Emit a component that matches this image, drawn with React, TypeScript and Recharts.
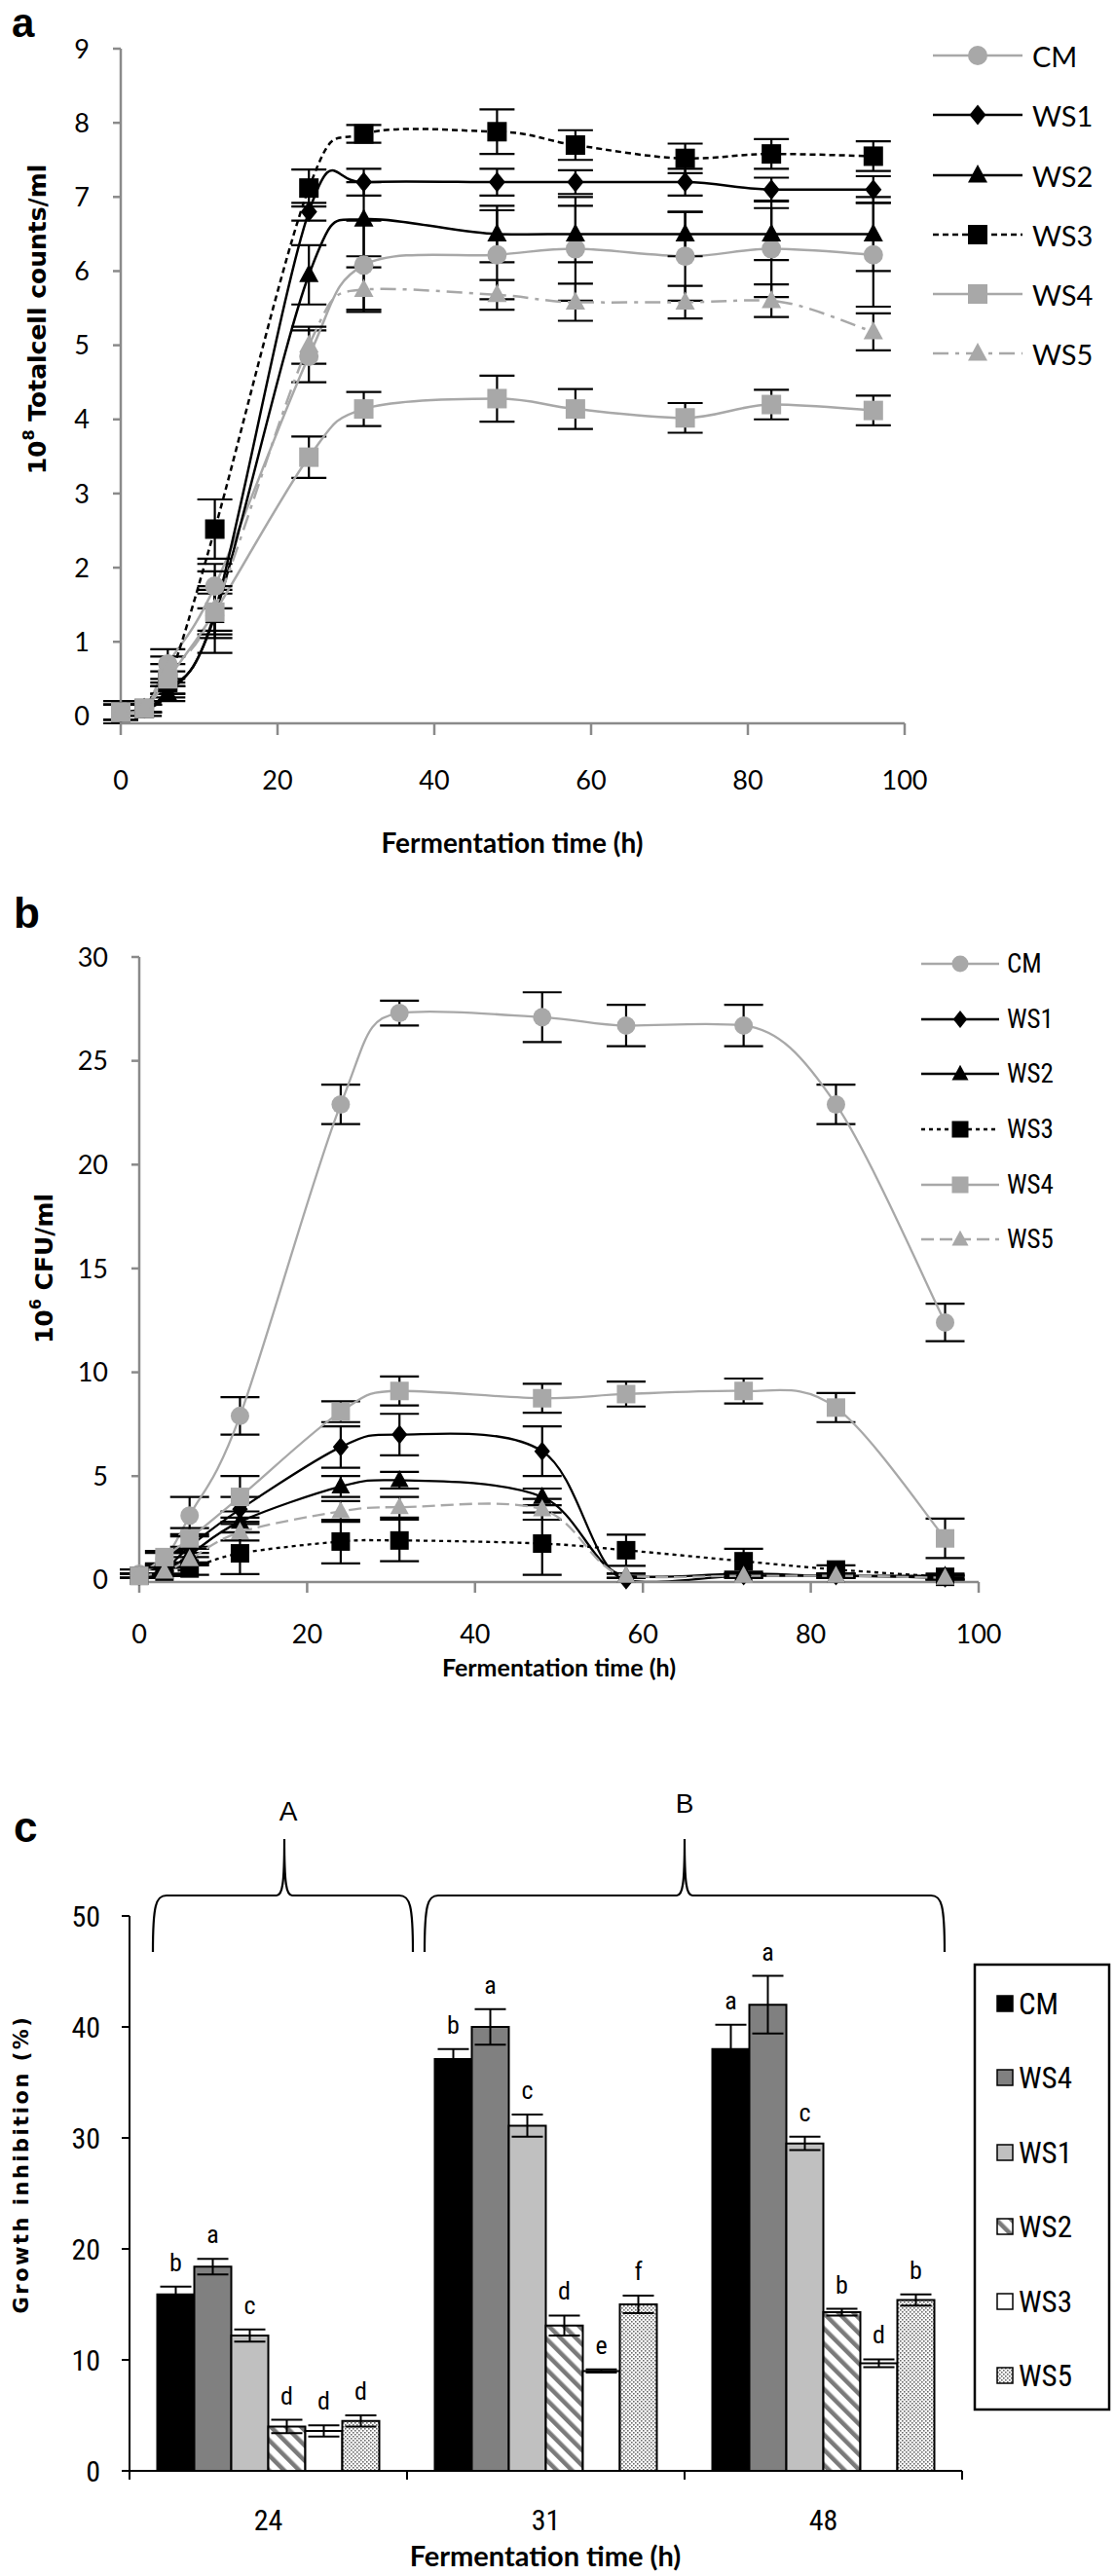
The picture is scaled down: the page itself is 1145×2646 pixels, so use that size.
import React from 'react';
import { LineChart, Line, XAxis, YAxis, ErrorBar, BarChart, Bar, LabelList } from 'recharts';

// ---------- shared ----------
const TIMES = [0, 3, 6, 12, 24, 31, 48, 58, 72, 83, 96];
const NAMES = ['CM', 'WS1', 'WS2', 'WS3', 'WS4', 'WS5'];
const X_TICKS = [0, 20, 40, 60, 80, 100];

// ---------- panel a : 10^8 total cell counts/ml ----------
const A_Y_TICKS = [0, 1, 2, 3, 4, 5, 6, 7, 8, 9];
const aCM = [0.05, 0.1, 0.7, 1.75, 4.85, 6.08, 6.22, 6.3, 6.2, 6.3, 6.22];
const aCMerr = [0.15, 0.1, 0.2, 0.3, 0.35, 0.6, 0.6, 0.7, 0.6, 0.65, 0.7];
const aWS1 = [0.05, 0.1, 0.35, 1.4, 6.8, 7.2, 7.2, 7.2, 7.2, 7.1, 7.1];
const aWS1err = [0.1, 0.05, 0.1, 0.3, 0.12, 0.18, 0.18, 0.16, 0.18, 0.16, 0.18];
const aWS2 = [0.05, 0.1, 0.3, 1.35, 5.95, 6.7, 6.5, 6.5, 6.5, 6.5, 6.5];
const aWS2err = [0.1, 0.05, 0.1, 0.3, 0.4, 0.5, 0.38, 0.38, 0.3, 0.35, 0.5];
const aWS3 = [0.05, 0.1, 0.45, 2.52, 7.12, 7.85, 7.88, 7.7, 7.52, 7.58, 7.55];
const aWS3err = [0.1, 0.05, 0.15, 0.4, 0.25, 0.12, 0.3, 0.2, 0.2, 0.2, 0.2];
const aWS4 = [0.05, 0.1, 0.5, 1.4, 3.49, 4.14, 4.28, 4.14, 4.02, 4.2, 4.12];
const aWS4err = [0.1, 0.05, 0.2, 0.55, 0.28, 0.23, 0.31, 0.27, 0.2, 0.2, 0.2];
const aWS5 = [0.05, 0.1, 0.6, 1.45, 5.0, 5.75, 5.68, 5.58, 5.58, 5.6, 5.18];
const aWS5err = [0.1, 0.05, 0.2, 0.3, 0.25, 0.3, 0.2, 0.25, 0.22, 0.22, 0.25];

// ---------- panel b : 10^6 CFU/ml ----------
const B_Y_TICKS = [0, 5, 10, 15, 20, 25, 30];
const bCM = [0.3, 1.0, 3.1, 7.9, 22.9, 27.3, 27.1, 26.7, 26.7, 22.9, 12.4];
const bCMerr = [0.2, 0.3, 0.9, 0.9, 0.95, 0.6, 1.2, 1.0, 1.0, 0.95, 0.9];
const bWS1 = [0.2, 0.5, 1.6, 3.4, 6.4, 7.0, 6.2, 0.0, 0.2, 0.2, 0.1];
const bWS1err = [0.1, 0.2, 0.5, 0.6, 1.0, 1.0, 1.2, 0.1, 0.1, 0.1, 0.1];
const bWS2 = [0.2, 0.4, 1.2, 2.8, 4.5, 4.8, 4.0, 0.2, 0.3, 0.2, 0.2];
const bWS2err = [0.1, 0.2, 0.4, 0.5, 0.5, 0.4, 0.4, 0.1, 0.1, 0.1, 0.1];
const bWS3 = [0.2, 0.4, 0.55, 1.28, 1.85, 1.9, 1.75, 1.43, 0.9, 0.5, 0.15];
const bWS3err = [0.1, 0.2, 0.3, 1.0, 1.05, 1.0, 1.5, 0.75, 0.6, 0.2, 0.1];
const bWS4 = [0.2, 1.1, 2.0, 4.0, 8.1, 9.1, 8.75, 8.95, 9.1, 8.3, 2.0];
const bWS4err = [0.1, 0.3, 0.5, 1.0, 0.5, 0.7, 0.7, 0.6, 0.6, 0.7, 0.95];
const bWS5 = [0.2, 0.4, 1.0, 2.3, 3.3, 3.5, 3.4, 0.2, 0.2, 0.2, 0.1];
const bWS5err = [0.1, 0.2, 0.3, 0.4, 0.5, 0.5, 0.5, 0.1, 0.1, 0.1, 0.1];

// ---------- panel c : growth inhibition (%) ----------
const C_CATEGORIES = ['24', '31', '48'];
const C_NAMES = ['CM', 'WS4', 'WS1', 'WS2', 'WS3', 'WS5'];
const C_Y_TICKS = [0, 10, 20, 30, 40, 50];
const cCM = [15.9, 37.1, 38.0];
const cCMerr = [0.7, 0.9, 2.2];
const cCMlet = ['b', 'b', 'a'];
const cWS4 = [18.4, 40.0, 42.0];
const cWS4err = [0.7, 1.6, 2.6];
const cWS4let = ['a', 'a', 'a'];
const cWS1 = [12.2, 31.1, 29.5];
const cWS1err = [0.55, 1.0, 0.6];
const cWS1let = ['c', 'c', 'c'];
const cWS2 = [4.0, 13.1, 14.3];
const cWS2err = [0.6, 0.9, 0.3];
const cWS2let = ['d', 'd', 'b'];
const cWS3 = [3.6, 9.0, 9.7];
const cWS3err = [0.5, 0.15, 0.35];
const cWS3let = ['d', 'e', 'd'];
const cWS5 = [4.5, 15.0, 15.4];
const cWS5err = [0.5, 0.8, 0.5];
const cWS5let = ['d', 'f', 'b'];

// ---------- styling ----------
const GRAY = '#a8a8a8';
const AXIS_GRAY = '#8a8a8a';
const LATO = "Lato, 'Open Sans', sans-serif";
const NARROW = "'Liberation Sans Narrow', 'Arial Narrow', 'Roboto Condensed', Roboto, sans-serif";
const DEJAVU = "'DejaVu Sans', Verdana, sans-serif";
const ARIAL = "'Liberation Sans', Arial, sans-serif";

type LStyle = { name: string; color: string; shape: string; dash?: string };
const A_STYLES: LStyle[] = [
  { name: 'CM', color: GRAY, shape: 'circle' },
  { name: 'WS1', color: '#000', shape: 'diamond' },
  { name: 'WS2', color: '#000', shape: 'triangle' },
  { name: 'WS3', color: '#000', shape: 'square', dash: '6 4' },
  { name: 'WS4', color: GRAY, shape: 'square' },
  { name: 'WS5', color: GRAY, shape: 'triangle', dash: '16 7 4 7' },
];
const B_STYLES: LStyle[] = [
  { name: 'CM', color: GRAY, shape: 'circle' },
  { name: 'WS1', color: '#000', shape: 'diamond' },
  { name: 'WS2', color: '#000', shape: 'triangle' },
  { name: 'WS3', color: '#000', shape: 'square', dash: '4 4' },
  { name: 'WS4', color: GRAY, shape: 'square' },
  { name: 'WS5', color: GRAY, shape: 'triangle', dash: '13 6' },
];
const C_FILLS = ['#000000', '#808080', '#c0c0c0', 'url(#hatchWS2)', '#ffffff', 'url(#dotsWS5)'];

function buildLineTable(values: number[][], errors: number[][]) {
  return TIMES.map((t, i) => {
    const row: any = { t };
    NAMES.forEach((n, k) => {
      row[n] = values[k][i];
      row[n + 'e'] = errors[k][i];
    });
    return row;
  });
}
const A_DATA = buildLineTable([aCM, aWS1, aWS2, aWS3, aWS4, aWS5], [aCMerr, aWS1err, aWS2err, aWS3err, aWS4err, aWS5err]);
const B_DATA = buildLineTable([bCM, bWS1, bWS2, bWS3, bWS4, bWS5], [bCMerr, bWS1err, bWS2err, bWS3err, bWS4err, bWS5err]);

const C_VALUES = [cCM, cWS4, cWS1, cWS2, cWS3, cWS5];
const C_ERRS = [cCMerr, cWS4err, cWS1err, cWS2err, cWS3err, cWS5err];
const C_LETS = [cCMlet, cWS4let, cWS1let, cWS2let, cWS3let, cWS5let];
const C_DATA = C_CATEGORIES.map((c, i) => {
  const row: any = { cat: c };
  C_NAMES.forEach((n, k) => {
    row[n] = C_VALUES[k][i];
    row[n + 'e'] = C_ERRS[k][i];
    row[n + 'l'] = C_LETS[k][i];
  });
  return row;
});

// Excel-like smoothed line (Catmull-Rom Bezier, damped at turning points)
const excelSmooth: any = (context: any) => {
  let pts: number[][] = [];
  return {
    areaStart() {},
    areaEnd() {},
    lineStart() { pts = []; },
    point(x: number, y: number) { pts.push([+x, +y]); },
    lineEnd() {
      const n = pts.length;
      if (!n) return;
      const tan = pts.map((p, j) => {
        const a = pts[j - 1] || p;
        const b = pts[j + 1] || p;
        let tx = (b[0] - a[0]) / 6;
        let ty = (b[1] - a[1]) / 6;
        if (pts[j - 1] && pts[j + 1] && (p[1] - a[1]) * (b[1] - p[1]) <= 0) ty *= 0.3;
        return [tx, ty];
      });
      context.moveTo(pts[0][0], pts[0][1]);
      for (let i = 0; i < n - 1; i++) {
        const p1 = pts[i];
        const p2 = pts[i + 1];
        context.bezierCurveTo(
          p1[0] + tan[i][0], p1[1] + tan[i][1],
          p2[0] - tan[i + 1][0], p2[1] - tan[i + 1][1],
          p2[0], p2[1]
        );
      }
    },
  };
};

function Marker({ shape, cx, cy, size, fill }: { shape: string; cx: number; cy: number; size: number; fill: string }) {
  if (cx == null || cy == null || isNaN(cx) || isNaN(cy)) return null;
  const h = size / 2;
  if (shape === 'circle') return <circle cx={cx} cy={cy} r={h} fill={fill} />;
  if (shape === 'square') return <rect x={cx - h} y={cy - h} width={size} height={size} fill={fill} />;
  if (shape === 'diamond')
    return <path d={`M${cx},${cy - h * 1.05}L${cx + h * 0.85},${cy}L${cx},${cy + h * 1.05}L${cx - h * 0.85},${cy}Z`} fill={fill} />;
  return <path d={`M${cx},${cy - h * 1.1}L${cx + h},${cy + h * 0.75}L${cx - h},${cy + h * 0.75}Z`} fill={fill} />;
}

const makeDot = (s: LStyle, size: number) => (p: any) => (
  <Marker key={`${s.name}-${p.index}`} shape={s.shape} cx={p.cx} cy={p.cy} size={size} fill={s.color} />
);

function Legend({ styles, x1, x2, tx, rows, size, font, fontSize, lw }: any) {
  return (
    <g>
      {styles.map((s: LStyle, i: number) => (
        <g key={s.name}>
          <line x1={x1} x2={x2} y1={rows[i]} y2={rows[i]} stroke={s.color} strokeWidth={lw} strokeDasharray={s.dash} />
          <Marker shape={s.shape} cx={(x1 + x2) / 2} cy={rows[i]} size={size} fill={s.color} />
          <text x={tx} y={rows[i]} dominantBaseline="central" fontFamily={font} fontSize={fontSize} fill="#000">{s.name}</text>
        </g>
      ))}
    </g>
  );
}

// ---------- layout ----------
const W = 1145;
const C_MARGIN = { top: 248, right: 157, bottom: 48, left: 73 };
const C_YW = 60;
const C_XH = 60;
const C_BAND = (W - C_MARGIN.left - C_YW - C_MARGIN.right) / C_CATEGORIES.length;

const CTick = (p: any) => {
  const { x, y, payload, index } = p;
  return (
    <g>
      <line x1={x - C_BAND / 2} x2={x - C_BAND / 2} y1={y} y2={y + 9} stroke="#000" strokeWidth={2} />
      {index === C_CATEGORIES.length - 1 && (
        <line x1={x + C_BAND / 2} x2={x + C_BAND / 2} y1={y} y2={y + 9} stroke="#000" strokeWidth={2} />
      )}
      <text x={x} y={y + 50} textAnchor="middle" dominantBaseline="central" fontFamily={NARROW} fontSize={30} fill="#000">
        {payload.value}
      </text>
    </g>
  );
};

const letterContent = (k: number) => (p: any) => {
  const x = Number(p.x), y = Number(p.y), width = Number(p.width), height = Number(p.height);
  const i = p.index;
  const v = C_VALUES[k][i];
  const ppu = height / v;
  const top = y - C_ERRS[k][i] * ppu;
  return (
    <text x={x + width / 2} y={top - 16} textAnchor="middle" fontFamily={NARROW} fontSize={26} fill="#000">
      {p.value}
    </text>
  );
};

function Brace({ x1, x2, xm, yTop, yLine, yEnd }: any) {
  const d = `M${x1},${yEnd} C${x1},${yLine + 10} ${x1 + 3},${yLine} ${x1 + 14},${yLine} L${xm - 8},${yLine} C${xm - 2},${yLine} ${xm},${yLine - 12} ${xm},${yTop} C${xm},${yLine - 12} ${xm + 2},${yLine} ${xm + 8},${yLine} L${x2 - 14},${yLine} C${x2 - 3},${yLine} ${x2},${yLine + 10} ${x2},${yEnd}`;
  return <path d={d} fill="none" stroke="#000" strokeWidth={2.2} />;
}

export default function App() {
  const aRows = [57, 118, 180, 241, 302, 363];
  const bRows = [990, 1047, 1103, 1160, 1217, 1273];
  const cRows = [2058, 2134, 2211, 2287, 2364, 2440];
  return (
    <div style={{ position: 'absolute', left: 0, top: 0, width: W, height: 2646, background: '#fff', overflow: 'hidden' }}>
      <svg width={0} height={0} style={{ position: 'absolute' }}>
        <defs>
          <pattern id="hatchWS2" width="11" height="11" patternUnits="userSpaceOnUse" patternTransform="rotate(-45)">
            <rect width="11" height="11" fill="#ffffff" />
            <rect x="0" y="0" width="4.5" height="11" fill="#7a7a7a" />
          </pattern>
          <pattern id="dotsWS5" width="4" height="4" patternUnits="userSpaceOnUse">
            <rect width="4" height="4" fill="#ffffff" />
            <rect x="0" y="0" width="1.6" height="1.6" fill="#6a6a6a" />
            <rect x="2" y="2" width="1.6" height="1.6" fill="#6a6a6a" />
          </pattern>
        </defs>
      </svg>

      {/* panel a */}
      <div style={{ position: 'absolute', left: 0, top: 0 }}>
        <LineChart width={W} height={880} data={A_DATA} margin={{ top: 50, right: 216, bottom: 77, left: 64 }}>
          <XAxis type="number" dataKey="t" domain={[0, 100]} ticks={X_TICKS} height={60}
            stroke={AXIS_GRAY} strokeWidth={2.5} tickSize={12} tickMargin={37}
            tick={{ fill: '#000', fontSize: 27, fontFamily: LATO }} />
          <YAxis type="number" domain={[0, 9]} ticks={A_Y_TICKS} width={60}
            stroke={AXIS_GRAY} strokeWidth={2.5} tickSize={8} tickMargin={24}
            tick={{ fill: '#000', fontSize: 27, fontFamily: LATO }} />
          {A_STYLES.map((s) => (
            <Line key={s.name} type={excelSmooth} dataKey={s.name} stroke={s.color} strokeWidth={2.5}
              strokeDasharray={s.dash} dot={makeDot(s, 20)} activeDot={false} isAnimationActive={false}>
              <ErrorBar dataKey={s.name + 'e'} width={18} stroke="#000" strokeWidth={2.2} direction="y" />
            </Line>
          ))}
        </LineChart>
      </div>

      {/* panel b */}
      <div style={{ position: 'absolute', left: 0, top: 880 }}>
        <LineChart width={W} height={840} data={B_DATA} margin={{ top: 103, right: 140, bottom: 35, left: 83 }}>
          <XAxis type="number" dataKey="t" domain={[0, 100]} ticks={X_TICKS} height={60}
            stroke={AXIS_GRAY} strokeWidth={2.5} tickSize={11} tickMargin={33}
            tick={{ fill: '#000', fontSize: 27, fontFamily: LATO }} />
          <YAxis type="number" domain={[0, 30]} ticks={B_Y_TICKS} width={60}
            stroke={AXIS_GRAY} strokeWidth={2.5} tickSize={8} tickMargin={24}
            tick={{ fill: '#000', fontSize: 27, fontFamily: LATO }} />
          {B_STYLES.map((s) => (
            <Line key={s.name} type={excelSmooth} dataKey={s.name} stroke={s.color} strokeWidth={2.3}
              strokeDasharray={s.dash} dot={makeDot(s, 19)} activeDot={false} isAnimationActive={false}>
              <ErrorBar dataKey={s.name + 'e'} width={20} stroke="#000" strokeWidth={2.2} direction="y" />
            </Line>
          ))}
        </LineChart>
      </div>

      {/* panel c */}
      <div style={{ position: 'absolute', left: 0, top: 1720 }}>
        <BarChart width={W} height={926} data={C_DATA} margin={C_MARGIN} barCategoryGap="10%" barGap={0}>
          <XAxis dataKey="cat" height={C_XH} stroke="#000" strokeWidth={2} tickLine={false} tickSize={0} tickMargin={0}
            tick={<CTick />} interval={0} />
          <YAxis type="number" domain={[0, 50]} ticks={C_Y_TICKS} width={C_YW}
            stroke="#000" strokeWidth={2} tickSize={8} tickMargin={22}
            tick={{ fill: '#000', fontSize: 30, fontFamily: NARROW }} />
          {C_NAMES.map((n, k) => (
            <Bar key={n} dataKey={n} fill={C_FILLS[k]} stroke="#000" strokeWidth={2} isAnimationActive={false}>
              <ErrorBar dataKey={n + 'e'} width={16} stroke="#000" strokeWidth={2} direction="y" />
              <LabelList dataKey={n + 'l'} content={letterContent(k)} />
            </Bar>
          ))}
        </BarChart>
      </div>

      {/* overlay text and legends */}
      <svg width={W} height={2646} style={{ position: 'absolute', left: 0, top: 0, pointerEvents: 'none' }}>
        {/* panel a */}
        <text x={12} y={38} fontFamily={ARIAL} fontWeight="bold" fontSize={42} fill="#000">a</text>
        <text transform="translate(38,328) rotate(-90)" textAnchor="middle" dominantBaseline="central"
          fontFamily={DEJAVU} fontWeight="bold" fontSize={25} fill="#000">
          <tspan>10</tspan><tspan dy={-9} fontSize={16}>8</tspan><tspan dy={9}> Totalcell counts/ml</tspan>
        </text>
        <text x={526} y={865} textAnchor="middle" dominantBaseline="central" fontFamily={LATO} fontWeight="bold" fontSize={28} fill="#000">
          Fermentation time (h)
        </text>
        <Legend styles={A_STYLES} x1={958} x2={1050} tx={1060} rows={aRows} size={20} font={LATO} fontSize={29} lw={2.5} />

        {/* panel b */}
        <text x={14} y={953} fontFamily={ARIAL} fontWeight="bold" fontSize={44} fill="#000">b</text>
        <text transform="translate(45,1303) rotate(-90)" textAnchor="middle" dominantBaseline="central"
          fontFamily={DEJAVU} fontWeight="bold" fontSize={25} fill="#000">
          <tspan>10</tspan><tspan dy={-9} fontSize={16}>6</tspan><tspan dy={9}> CFU/ml</tspan>
        </text>
        <text x={574} y={1712} textAnchor="middle" dominantBaseline="central" fontFamily={LATO} fontWeight="bold" fontSize={25} fill="#000">
          Fermentation time (h)
        </text>
        <Legend styles={B_STYLES} x1={946} x2={1026} tx={1034} rows={bRows} size={17} font={NARROW} fontSize={27} lw={2.3} />

        {/* panel c */}
        <text x={14} y={1892} fontFamily={ARIAL} fontWeight="bold" fontSize={44} fill="#000">c</text>
        <text x={296} y={1860} textAnchor="middle" dominantBaseline="central" fontFamily={ARIAL} fontSize={28} fill="#000">A</text>
        <text x={703} y={1852} textAnchor="middle" dominantBaseline="central" fontFamily={ARIAL} fontSize={28} fill="#000">B</text>
        <Brace x1={157} x2={424} xm={292} yTop={1889} yLine={1947} yEnd={2005} />
        <Brace x1={436} x2={970} xm={703} yTop={1889} yLine={1947} yEnd={2005} />
        <text transform="translate(22,2223) rotate(-90)" textAnchor="middle" dominantBaseline="central"
          fontFamily={DEJAVU} fontWeight="bold" fontSize={21} letterSpacing={2.5} fill="#000">
          Growth inhibition  (%)
        </text>
        <text x={560} y={2624} textAnchor="middle" dominantBaseline="central" fontFamily={LATO} fontWeight="bold" fontSize={29} fill="#000">
          Fermentation time (h)
        </text>
        <rect x={1001} y={2018} width={138} height={457} fill="#fff" stroke="#000" strokeWidth={2.5} />
        {C_NAMES.map((n, k) => (
          <g key={n}>
            <rect x={1024} y={cRows[k] - 8} width={16} height={16} fill={C_FILLS[k]} stroke="#000" strokeWidth={1.5} />
            <text x={1046} y={cRows[k]} dominantBaseline="central" fontFamily={NARROW} fontSize={31} fill="#000">{n}</text>
          </g>
        ))}
      </svg>
    </div>
  );
}
